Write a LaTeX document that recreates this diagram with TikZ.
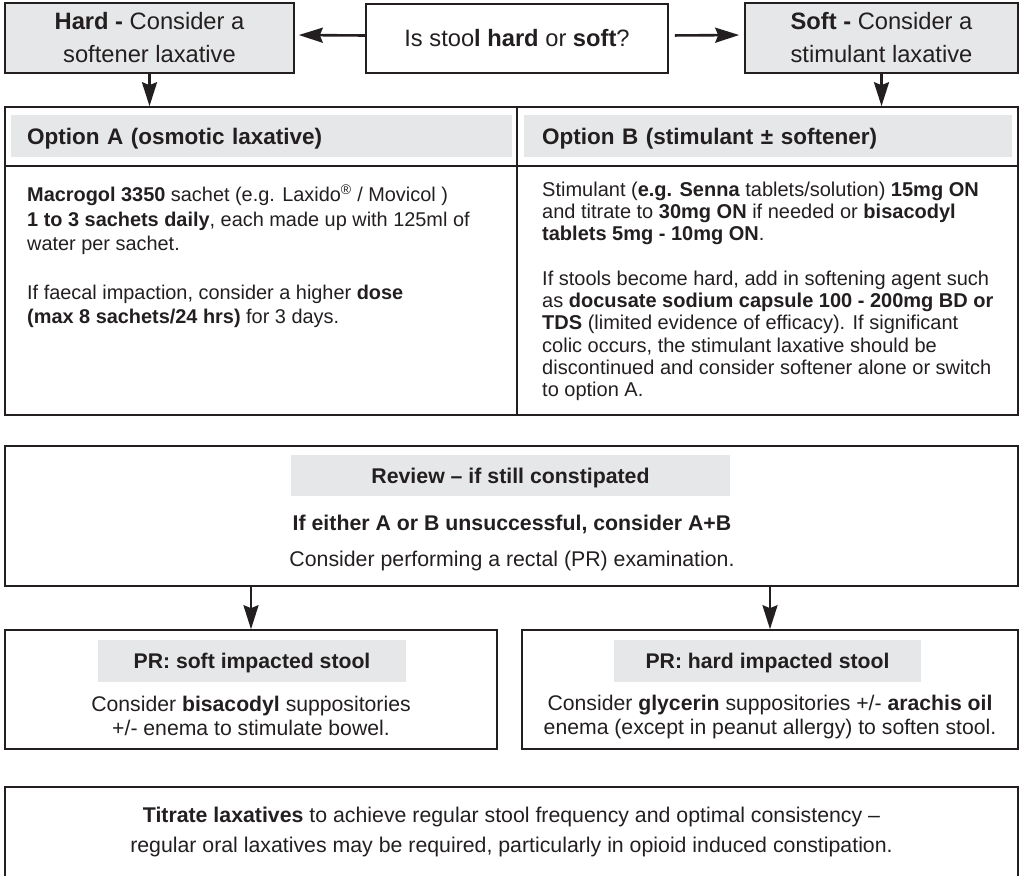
\documentclass[tikz,border=0pt]{standalone}
\usepackage{fontspec}
\setmainfont{Liberation Sans}
\usepackage{xcolor}
\usepackage{tikz}
\usetikzlibrary{arrows.meta,positioning}

\definecolor{ink}{RGB}{35,31,32}
\definecolor{boxgrey}{RGB}{230,231,232}

\tikzset{
  framebox/.style={draw=ink, line width=1.6pt, inner sep=0pt, text=ink},
  greybox/.style={framebox, fill=boxgrey},
  headbar/.style={fill=boxgrey, inner sep=0pt, text=ink, text depth=0pt},
  flow/.style={draw=ink, line width=2.6pt, -{Stealth[length=24pt,width=15pt,inset=3pt]}},
  topfont/.style={font=\fontsize{23.7}{33}\selectfont},
  optfont/.style={font=\fontsize{22.5}{27}\selectfont\bfseries},
  bodyAfont/.style={font=\fontsize{19.9}{24.3}\selectfont},
  bodyBfont/.style={font=\fontsize{20}{22.3}\selectfont},
  revfont/.style={font=\fontsize{21.3}{25}\selectfont},
  prfont/.style={font=\fontsize{21.2}{24}\selectfont},
  endfont/.style={font=\fontsize{21.3}{30}\selectfont}
}

\begin{document}
\begin{tikzpicture}[x=1pt, y=-1pt]
    \useasboundingbox (0,0) rectangle (1022,875);

    % Question and the two answers
    \node[framebox, minimum width=302pt, minimum height=69pt, topfont] (ask) at (517,38.5)
        {Is stoo\textbf{l hard} or \textbf{soft}?};
    \node[greybox, minimum width=289pt, minimum height=70pt, align=center, topfont] (hard) at (149.5,38)
        {\textbf{Hard -} Consider a\\softener laxative};
    \node[greybox, minimum width=273pt, minimum height=70pt, align=center, topfont] (soft) at (881.5,38)
        {\textbf{Soft -} Consider a\\stimulant laxative};
    \draw[flow, shorten >=4pt] ([yshift=3pt]ask.west) -- ([yshift=3pt]hard.east);
    \draw[flow, shorten <=6pt, shorten >=5pt] ([yshift=3pt]ask.east) -- ([yshift=3pt]soft.west);

    % Options table
    \node[framebox, minimum width=512pt, minimum height=308pt] (colA) at (261,261) {};
    \node[framebox, minimum width=501pt, minimum height=308pt] (colB) at (767.5,261) {};
    \draw[ink, line width=1.6pt] (colA.west |- 0,166) -- (colB.east |- 0,166);
    \node[headbar, anchor=west, minimum height=42pt, inner xsep=16pt, text width=469pt, align=left, optfont] (headA) at (11,136)
        {Option A (osmotic laxative)};
    \node[headbar, anchor=west, minimum height=42pt, inner xsep=18pt, text width=452pt, align=left, optfont] (headB) at (524,136)
        {Option B (stimulant ± softener)};
    \draw[flow] (hard) -- (hard |- colA.north);
    \draw[flow] (soft) -- (soft |- colB.north);

    \node[anchor=north west, inner sep=0pt, align=left, text=ink, bodyAfont] (textA) at (27,184.5)
        {\textbf{Macrogol 3350} sachet (e.g. Laxido\textsuperscript{®} / Movicol )\\
         \textbf{1 to 3 sachets daily}, each made up with 125ml of\\
         water per sachet.\\[24.3pt]
         If faecal impaction, consider a higher \textbf{dose}\\
         \textbf{(max 8 sachets/24 hrs)} for 3 days.};
    \node[anchor=north west, inner sep=0pt, align=left, text=ink, bodyBfont] (textB) at (542,181.4)
        {Stimulant (\textbf{e.g. Senna} tablets/solution) \textbf{15mg ON}\\
         and titrate to \textbf{30mg ON} if needed or \textbf{bisacodyl}\\
         \textbf{tablets 5mg - 10mg ON}.\\[22.3pt]
         If stools become hard, add in softening agent such\\
         as \textbf{docusate sodium capsule 100 - 200mg BD or}\\
         \textbf{TDS} (limited evidence of efficacy). If significant\\
         colic occurs, the stimulant laxative should be\\
         discontinued and consider softener alone or switch\\
         to option A.};

    % Review
    \node[framebox, minimum width=1013pt, minimum height=140pt] (review) at (511.5,516) {};
    \node[headbar, minimum width=439pt, minimum height=41pt, revfont] (revhead) at (510.5,475.5)
        {\textbf{Review – if still constipated}};
    \node[anchor=base, inner sep=0pt, text=ink, revfont] (revAB) at (512,530)
        {\textbf{If either A or B unsuccessful, consider A+B}};
    \node[anchor=base, inner sep=0pt, text=ink, revfont] (revPR) at (512,566)
        {Consider performing a rectal (PR) examination.};

    % PR findings
    \node[framebox, minimum width=492pt, minimum height=119pt] (prsoft) at (251,689.5) {};
    \node[framebox, minimum width=496pt, minimum height=119pt] (prhard) at (770,689.5) {};
    \node[headbar, minimum width=308pt, minimum height=42pt, prfont] (softhead) at (252,661)
        {\textbf{PR: soft impacted stool}};
    \node[headbar, minimum width=307pt, minimum height=42pt, prfont] (hardhead) at (767.5,661)
        {\textbf{PR: hard impacted stool}};
    \node[inner sep=0pt, align=center, text=ink, prfont] (softtext) at (251,716)
        {Consider \textbf{bisacodyl} suppositories\\+/- enema to stimulate bowel.};
    \node[inner sep=0pt, align=center, text=ink, prfont] (hardtext) at (770,717.5)
        {Consider \textbf{glycerin} suppositories +/- \textbf{arachis oil}\\enema (except in peanut allergy) to soften stool.};
    \draw[flow] (review.south -| prsoft.north) -- (prsoft.north);
    \draw[flow] (review.south -| prhard.north) -- (prhard.north);

    % Titrate
    \node[framebox, minimum width=1013pt, minimum height=90pt, align=center, endfont] (titrate) at (511.5,832)
        {\textbf{Titrate laxatives} to achieve regular stool frequency and optimal consistency –\\
         regular oral laxatives may be required, particularly in opioid induced constipation.};
\end{tikzpicture}
\end{document}
